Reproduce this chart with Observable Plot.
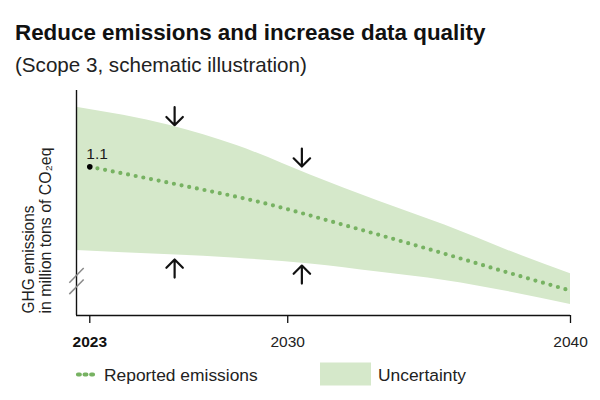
<!DOCTYPE html>
<html>
<head>
<meta charset="utf-8">
<script src="https://cdn.jsdelivr.net/npm/d3@7"></script>
<script src="https://cdn.jsdelivr.net/npm/@observablehq/plot@0.6"></script>
<style>
  html, body { margin: 0; padding: 0; background: #fff; }
  #wrap { position: relative; width: 600px; height: 400px; overflow: hidden;
          font-family: "Liberation Sans", Arial, sans-serif; color: #1a1a1a; }
  .t { position: absolute; white-space: nowrap; }
  #title { left: 15px; top: 22px; font-size: 22.4px; line-height: 22.4px; font-weight: bold; color: #111; }
  #subtitle { left: 15px; top: 55px; font-size: 20.6px; line-height: 20.6px; color: #222; }
  #chart { position: absolute; left: 0; top: 80px; }
  .leg { position: absolute; top: 367px; font-size: 17.4px; line-height: 17.4px; white-space: nowrap; color: #222; }
  #legsvg { position: absolute; left: 0; top: 350px; }
</style>
</head>
<body>
<div id="wrap">
  <div id="title" class="t"></div>
  <div id="subtitle" class="t"></div>
  <div id="chart"></div>
  <svg id="legsvg" width="600" height="50"></svg>
  <div id="leg1" class="leg" style="left:104px"></div>
  <div id="leg2" class="leg" style="left:378px"></div>
</div>
<script>
// ---- text ----
const titleText = "Reduce emissions and increase data quality";
const subtitleText = "(Scope 3, schematic illustration)";
const yLabelLines = ["GHG emissions", "in million tons of CO\u2082eq"];
const legendLabels = ["Reported emissions", "Uncertainty"];

// ---- data (schematic) ----
const xTicks = [2023, 2030, 2040];
const boldTicks = [2023];
const xStart = 2022.53;
const xEnd = 2040;
const yMin = 0.36;
const yMax = 1.48;

const bandYears = [2022.53, 2025.85, 2028.2, 2030.8, 2033.2, 2035.55, 2037.9, 2040];
const bandHigh  = [1.397, 1.306, 1.206, 1.06, 0.93, 0.81, 0.678, 0.568];
const bandLow   = [0.684, 0.662, 0.645, 0.616, 0.576, 0.534, 0.476, 0.415];

const lineYears  = [2023, 2026, 2029, 2032, 2035, 2038, 2040];
const lineValues = [1.1, 1.015, 0.925, 0.81, 0.69, 0.565, 0.484];

const startYear = [2023];
const startValue = [1.1];
const startLabel = ["1.1"];

// arrows: year, tail value, direction (1 = up, -1 = down)
const arrowYears = [2026, 2030.5, 2026, 2030.5];
const arrowTail  = [1.397, 1.191, 0.549, 0.519];
const arrowDir   = [-1, -1, 1, 1];

const breakValues = [0.56, 0.503];

// ---- styles ----
const bandColor = "#d5e8ca";
const lineColor = "#77b262";
const inkColor = "#111";
const breakColor = "#8a8a8a";
const breakHalfX = 0.254;   // years
const breakHalfY = 0.0365;  // value units
const arrowLen = 18;
const arrowHead = 8;

document.getElementById("title").textContent = titleText;
document.getElementById("subtitle").textContent = subtitleText;
document.getElementById("leg1").textContent = legendLabels[0];
document.getElementById("leg2").textContent = legendLabels[1];

const band = bandYears.map((x, i) => ({x, lo: bandLow[i], hi: bandHigh[i]}));
const line = lineYears.map((x, i) => ({x, y: lineValues[i]}));
const arrows = arrowYears.map((x, i) => ({x, y: arrowTail[i], rot: arrowDir[i] > 0 ? 0 : 180}));
const breaks = breakValues.map(v => ({x1: xStart - breakHalfX, x2: xStart + breakHalfX, y1: v - breakHalfY, y2: v + breakHalfY}));
const start = startYear.map((x, i) => ({x, y: startValue[i], label: startLabel[i]}));

const plot = Plot.plot({
  width: 600,
  height: 270,
  marginLeft: 76,
  marginRight: 30,
  marginTop: 10,
  marginBottom: 35,
  style: {fontFamily: "Liberation Sans, Arial, sans-serif", color: "#1a1a1a", background: "transparent", overflow: "visible"},
  x: {domain: [xStart, xEnd], axis: null},
  y: {domain: [yMin, yMax], axis: null},
  marks: [
    Plot.areaY(band, {x: "x", y1: "lo", y2: "hi", fill: bandColor, curve: "monotone-x"}),
    Plot.line(line, {x: "x", y: "y", stroke: lineColor, strokeWidth: 4.2, strokeDasharray: "0 7.8", strokeLinecap: "round", curve: "monotone-x"}),
    Plot.dot(start, {x: "x", y: "y", r: 2.8, fill: "#000", stroke: null}),
    Plot.text(start, {x: "x", y: "y", text: "label", dx: -3.5, dy: -13, textAnchor: "start", lineAnchor: "middle", fontSize: 15.5, fill: "#1a1a1a"}),
    Plot.vector(arrows, {x: "x", y: "y", rotate: "rot", length: arrowLen, r: arrowHead, anchor: "start", shape: "arrow", stroke: inkColor, strokeWidth: 2.2}),
    Plot.ruleY([yMin], {stroke: inkColor, strokeWidth: 1.4}),
    Plot.ruleX([xStart], {stroke: inkColor, strokeWidth: 1.4}),
    Plot.link(breaks, {x1: "x1", y1: "y1", x2: "x2", y2: "y2", stroke: breakColor, strokeWidth: 1.5}),
    Plot.axisX(boldTicks, {tickSize: 8, tickPadding: 12, fontSize: 15.5, fontWeight: "bold", tickFormat: d => String(d), label: null, stroke: inkColor, strokeWidth: 1.3, fill: "#111"}),
    Plot.axisX(xTicks.filter(t => !boldTicks.includes(t)), {tickSize: 8, tickPadding: 12, fontSize: 15.5, tickFormat: d => String(d), label: null, stroke: inkColor, strokeWidth: 1.3, fill: "#222"}),
    Plot.text([yLabelLines[0]], {frameAnchor: "bottom-left", text: d => d, rotate: -90, textAnchor: "start", lineAnchor: "middle", dx: -47.7, dy: -2, fontSize: 16.5, fill: "#222", className: "ylab1"}),
    Plot.text([yLabelLines[1]], {frameAnchor: "bottom-left", text: d => d, rotate: -90, textAnchor: "start", lineAnchor: "middle", dx: -30.5, dy: -2, fontSize: 16.5, fill: "#222", className: "ylab2"})
  ]
});
document.getElementById("chart").appendChild(plot);
// fit y-label lengths to the reference
d3.select(plot).selectAll(".ylab1 text").attr("textLength", 108).attr("lengthAdjust", "spacingAndGlyphs");
d3.select(plot).selectAll(".ylab2 text").attr("textLength", 166).attr("lengthAdjust", "spacingAndGlyphs");

// ---- legend swatches ----
const leg = d3.select("#legsvg");
leg.append("line")
  .attr("x1", 78).attr("x2", 96).attr("y1", 24.5).attr("y2", 24.5)
  .attr("stroke", lineColor).attr("stroke-width", 4.2)
  .attr("stroke-linecap", "round").attr("stroke-dasharray", "1.8 4.8");
leg.append("rect")
  .attr("x", 320).attr("y", 12.5).attr("width", 51).attr("height", 23)
  .attr("fill", bandColor);
</script>
</body>
</html>
